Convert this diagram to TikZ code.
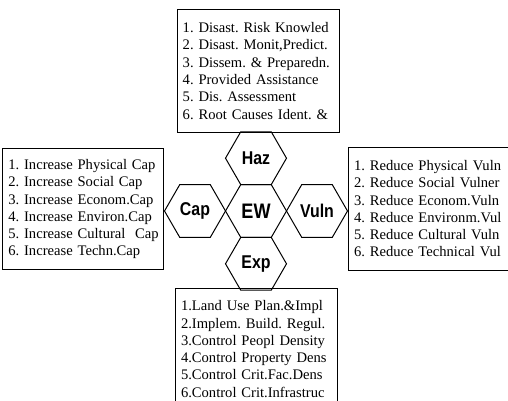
\documentclass[tikz,border=0pt]{standalone}
\usepackage{fontspec}
\setmainfont{Liberation Serif}
\newfontfamily\hexfont[FakeStretch=0.86]{Liberation Sans Bold}
\usetikzlibrary{shapes.geometric}
\frenchspacing
\begin{document}
\begin{tikzpicture}[x=1pt,y=-1pt,
  listbox/.style={draw=black, line width=1pt, anchor=north west, align=left,
    inner xsep=5.5pt, inner ysep=0pt,
    font=\fontsize{14.6}{17.3}\selectfont},
  hexa/.style={draw=black, line width=1pt, regular polygon, regular polygon sides=6,
    minimum size=61pt, inner sep=0pt, outer sep=0pt},
  hexlab/.style={font=\hexfont\fontsize{18.5}{18.5}\selectfont}]
\useasboundingbox (0,0) rectangle (508,401);
% boxes
\node[listbox, text width=151pt, minimum height=122.7pt] (top) at (176.7,9)
 {1. Disast. Risk Knowled\\2. Disast. Monit,Predict.\\3. Dissem. \& Preparedn.\\4. Provided Assistance\\5. Dis. Assessment\\6. Root Causes Ident. \&};
\node[listbox, text width=149.7pt, minimum height=120.7pt] (left) at (2.3,148.3)
 {1. Increase Physical Cap\\2. Increase Social Cap\\3. Increase Econom.Cap\\4. Increase Environ.Cap\\\mbox{5. Increase Cultural\ \ Cap}\\6. Increase Techn.Cap};
\node[listbox, text width=151pt, minimum height=123.5pt] (right) at (348,146.5)
 {1. Reduce Physical Vuln\\2. Reduce Social Vulner\\3. Reduce Econom.Vuln\\4. Reduce Environm.Vul\\5. Reduce Cultural Vuln\\6. Reduce Technical Vul};
\node[listbox, text width=151pt, minimum height=121pt] (bottom) at (175,288)
 {1.Land Use Plan.\&Impl\\2.Implem. Build. Regul.\\3.Control Peopl Density\\4.Control Property Dens\\5.Control Crit.Fac.Dens\\6.Control Crit.Infrastruc};
% hexagons
\node[hexa] (ew) at (256,211) {};
\node[hexa] (haz) at (256,158.2) {};
\node[hexa] (exp) at (256,263.8) {};
\node[hexa] (cap) at (195,211) {};
\node[hexa] (vuln) at (317,211) {};
\node[hexlab, font=\hexfont\fontsize{21}{21}\selectfont] (ewl) at (ew.center) {EW};
\node[hexlab] (hazl) at (haz.center) {Haz};
\node[hexlab] (expl) at (exp.center) {Exp};
\node[hexlab] (capl) at (cap.center) {Cap};
\node[hexlab] (vulnl) at (vuln.center) {Vuln};
\end{tikzpicture}
\end{document}
